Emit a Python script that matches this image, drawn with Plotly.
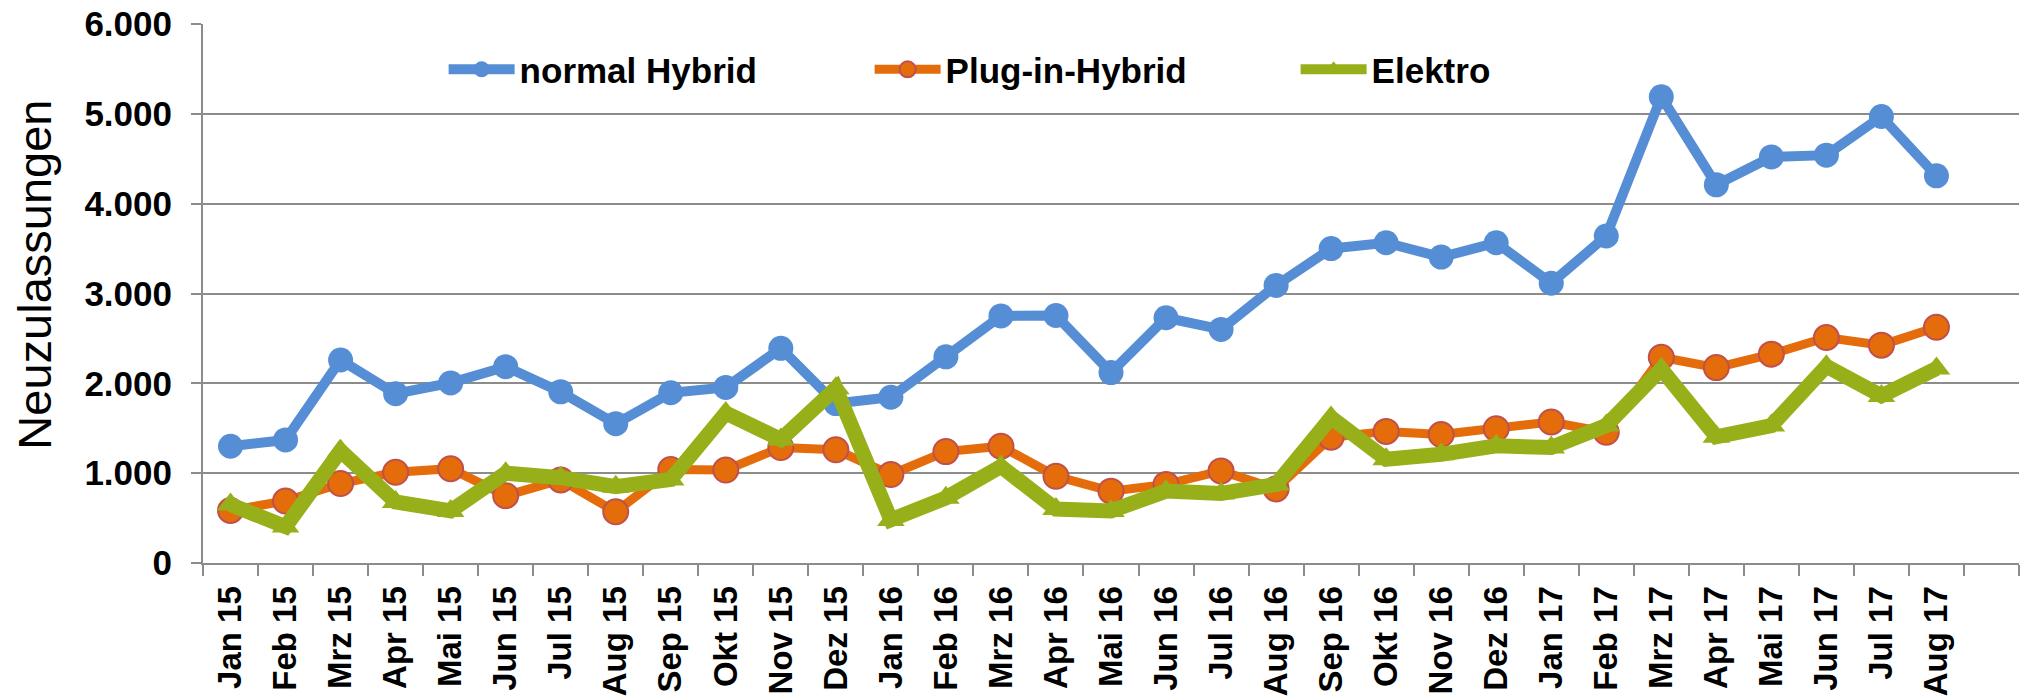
import plotly.graph_objects as go

months = ["Jan 15", "Feb 15", "Mrz 15", "Apr 15", "Mai 15", "Jun 15", "Jul 15", "Aug 15",
          "Sep 15", "Okt 15", "Nov 15", "Dez 15", "Jan 16", "Feb 16", "Mrz 16", "Apr 16",
          "Mai 16", "Jun 16", "Jul 16", "Aug 16", "Sep 16", "Okt 16", "Nov 16", "Dez 16",
          "Jan 17", "Feb 17", "Mrz 17", "Apr 17", "Mai 17", "Jun 17", "Jul 17", "Aug 17"]

normal_hybrid = [1300, 1370, 2260, 1885, 2005, 2185, 1905, 1550, 1895, 1955, 2390, 1775,
                 1845, 2295, 2750, 2755, 2120, 2730, 2600, 3090, 3500, 3565, 3405, 3565,
                 3115, 3640, 5190, 4210, 4520, 4540, 4970, 4310]
plug_in_hybrid = [585, 690, 885, 1010, 1050, 750, 925, 570, 1040, 1035, 1285, 1260,
                  985, 1240, 1300, 965, 800, 875, 1025, 825, 1400, 1465, 1430, 1495,
                  1570, 1455, 2290, 2175, 2325, 2510, 2425, 2625]
elektro = [650, 405, 1250, 680, 580, 1000, 950, 850, 930, 1670, 1375, 1945,
           480, 725, 1075, 600, 580, 800, 775, 875, 1620, 1155, 1210, 1305,
           1285, 1530, 2160, 1405, 1530, 2190, 1860, 2165]

y_ticks = [0, 1000, 2000, 3000, 4000, 5000, 6000]

x = list(range(len(months)))
BOLD = "Liberation Sans, Arial, sans-serif"

fig = go.Figure()
fig.add_trace(go.Scatter(
    x=x, y=normal_hybrid, name="normal Hybrid", mode="lines+markers",
    line=dict(color="#558ED5", width=10),
    marker=dict(symbol="circle", size=25, color="#558ED5", line=dict(width=0)),
))
fig.add_trace(go.Scatter(
    x=x, y=plug_in_hybrid, name="Plug-in-Hybrid", mode="lines+markers",
    line=dict(color="#E46C0A", width=9),
    marker=dict(symbol="circle", size=25, color="#E46C0A", line=dict(width=2, color="#C0504D")),
))
fig.add_trace(go.Scatter(
    x=x, y=elektro, name="Elektro", mode="lines+markers",
    line=dict(color="#97B01A", width=15),
    marker=dict(symbol="triangle-up", size=24, color="#97B01A", line=dict(width=0)),
))

fig.update_layout(
    width=2029, height=697,
    margin=dict(l=203, r=10, t=24, b=134),
    paper_bgcolor="white", plot_bgcolor="white",
    separators=",.",
    font=dict(family=BOLD, size=35, color="black"),
    showlegend=True,
    legend=dict(
        orientation="h", x=0.1325, xanchor="left", y=0.9155, yanchor="middle",
        font=dict(family=BOLD, size=35, color="black", weight="bold"),
        bgcolor="rgba(0,0,0,0)", itemwidth=66, entrywidth=345,
    ),
    xaxis=dict(
        range=[-0.5, 32.5], tickmode="array", tickvals=x, ticktext=months,
        tickangle=-90, ticks="", showgrid=False, zeroline=False, automargin=False,
        showline=True, linecolor="#8C8C8C", linewidth=2,
        tickfont=dict(family=BOLD, size=33, color="black", weight="bold"),
        ticklabelstandoff=8, ticklabeloverflow="allow",
        minor=dict(tickmode="linear", tick0=0.5, dtick=1, ticks="outside",
                   ticklen=11, tickwidth=2, tickcolor="#8C8C8C", showgrid=False),
    ),
    yaxis=dict(
        range=[0, 6000], tickmode="array", tickvals=y_ticks, tickformat=",.0f",
        ticks="outside", ticklen=10, tickwidth=2, tickcolor="#8C8C8C",
        showgrid=True, gridcolor="#8C8C8C", gridwidth=2, zeroline=False, automargin=False,
        showline=True, linecolor="#8C8C8C", linewidth=2,
        tickfont=dict(family=BOLD, size=35, color="black", weight="bold"),
        ticklabelstandoff=12, ticklabeloverflow="allow",
    ),
    annotations=[dict(
        text="Neuzulassungen", textangle=-90, xref="paper", yref="paper",
        x=-0.0925, y=0.535, xanchor="center", yanchor="middle", showarrow=False,
        font=dict(family="Liberation Sans, Arial, sans-serif", size=47, color="black"),
    )],
)

# remove the browser's default 8px body margin so the figure fills the window exactly
fig.write_html("out.html", config={"displayModeBar": False},
               post_script="document.body.style.margin='0';document.body.style.overflow='hidden';")
